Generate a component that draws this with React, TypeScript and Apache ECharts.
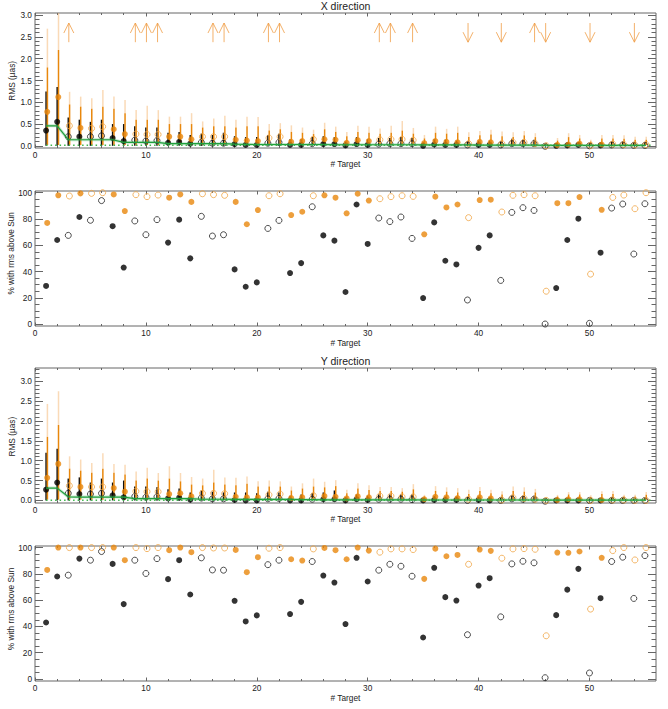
import { useEffect, useRef } from "react";
import * as echarts from "echarts";

// ---------- data ----------
const targets = [1,2,3,4,5,6,7,8,9,10,11,12,13,14,15,16,17,18,19,20,21,22,23,24,25,26,27,28,29,30,31,32,33,34,35,36,37,38,39,40,41,42,43,44,45,46,47,48,49,50,51,52,53,54,55];
const filledTargets = [1,2,4,7,8,12,13,14,18,19,20,23,24,26,27,28,29,30,35,36,37,38,40,41,47,48,49,51];

// X direction: median RMS (µas)
const rmsBlackX = [0.35,0.55,0.21,0.21,0.21,0.23,0.18,0.11,0.13,0.11,0.12,0.07,0.09,0.05,0.08,0.06,0.06,0.04,0.02,0.02,0.06,0.08,0.02,0.02,0.05,0.04,0.04,0.01,0.04,0.02,0.04,0.05,0.05,0.05,0.0,0.03,0.02,0.02,0.02,0.02,0.02,0.02,0.05,0.05,0.05,-0.01,0.0,0.01,0.02,0.0,0.01,0.02,0.02,0.01,0.01];
const rmsOrangeX = [0.78,1.12,0.46,0.41,0.40,0.44,0.38,0.27,0.27,0.26,0.26,0.21,0.21,0.15,0.21,0.21,0.21,0.14,0.12,0.11,0.18,0.21,0.09,0.11,0.15,0.15,0.14,0.07,0.13,0.11,0.14,0.15,0.15,0.13,0.06,0.11,0.09,0.08,0.05,0.09,0.08,0.05,0.08,0.08,0.05,0.0,0.02,0.03,0.05,0.01,0.03,0.04,0.03,0.02,0.03];
// X direction: spread of individual realisations
const orangeMaxX = [2.69,3.05,1.24,1.13,1.09,1.28,1.13,1.05,0.82,0.92,0.82,0.67,0.67,0.75,0.56,0.63,0.69,0.6,0.67,0.66,0.5,0.52,0.47,0.42,0.37,0.53,0.44,0.32,0.46,0.44,0.4,0.46,0.57,0.41,0.25,0.44,0.39,0.44,0.31,0.34,0.37,0.33,0.31,0.34,0.29,0.08,0.18,0.29,0.25,0.14,0.25,0.25,0.24,0.21,0.21];
const orangeDenseX = [1.8,2.2,0.95,0.9,0.85,0.9,0.85,0.75,0.6,0.6,0.6,0.5,0.5,0.5,0.42,0.45,0.45,0.42,0.45,0.45,0.35,0.38,0.32,0.3,0.27,0.38,0.32,0.22,0.32,0.3,0.28,0.3,0.35,0.28,0.17,0.3,0.28,0.3,0.2,0.24,0.26,0.22,0.2,0.24,0.2,0.05,0.12,0.2,0.17,0.1,0.17,0.17,0.16,0.14,0.14];
const blackTopX = [1.25,1.35,0.65,0.6,0.55,0.6,0.5,0.5,0.45,0.42,0.42,0.3,0.32,0.25,0.28,0.25,0.3,0.22,0.2,0.2,0.25,0.28,0.15,0.15,0.2,0.22,0.2,0.1,0.2,0.15,0.18,0.18,0.2,0.18,0.08,0.15,0.14,0.12,0.1,0.12,0.12,0.1,0.16,0.14,0.14,0.04,0.06,0.08,0.08,0.06,0.08,0.1,0.1,0.08,0.08];
const sunX = [0.46,0.46,0.14,0.14,0.14,0.14,0.14,0.08,0.08,0.08,0.08,0.05,0.05,0.05,0.05,0.05,0.05,0.04,0.035,0.03,0.03,0.03,0.03,0.03,0.03,0.03,0.025,0.025,0.025,0.025,0.025,0.025,0.025,0.025,0.02,0.02,0.02,0.02,0.02,0.015,0.015,0.015,0.015,0.015,0.015,0.01,0.01,0.01,0.01,0.01,0.01,0.01,0.01,0.01,0.01];
const floorX = [[1, 0.012], [55.7, 0.012]];
const upArrowTargets = [3,9,10,11,16,17,21,22,31,32,34,45];
const downArrowTargets = [39,42,46,50,54];
const arrowSpan = [2.38, 2.82];

// X direction: % with rms above Sun
const pctBlackX = [29,64,67.5,81.5,79,94,74.5,43,78.5,68,79.5,62,79.5,50,82,67,68,41.6,28.4,31.7,72.8,78.9,38.8,46.4,89.3,67.5,63.5,24.4,91,61,80.7,78,81.5,65.2,19.8,77.4,48.2,45.4,18.3,58,67.5,33.2,85,88.6,86.5,0,27.4,64,80.2,0.5,54.3,88.3,91.4,53.3,91.6];
const pctOrangeX = [77,98,97.5,99.5,99.5,100,98.7,86,98.5,97,98.2,96.2,98.7,93,99.2,98.5,98,93,76,86.8,97.7,99.2,83,85.5,97.7,98,96.2,84.3,99.2,94,95.4,97,97.7,97.2,68.3,97,88.8,91,81,94.4,94.7,85.3,98,98.5,97.7,25,92,92,96.7,38,87,96.4,98.2,87.8,100];

// Y direction: median RMS (µas)
const rmsBlackY = [0.27,0.45,0.18,0.16,0.16,0.18,0.13,0.08,0.10,0.08,0.09,0.05,0.07,0.02,0.06,0.04,0.04,0.01,0.0,0.0,0.04,0.05,0.0,0.0,0.03,0.03,0.03,0.0,0.03,0.01,0.03,0.03,0.03,0.02,0.0,0.01,0.01,0.01,0.0,0.01,0.0,0.0,0.04,0.03,0.03,-0.02,0.0,0.0,0.0,0.0,0.0,0.0,0.0,0.0,0.0];
const rmsOrangeY = [0.57,0.92,0.37,0.34,0.34,0.34,0.31,0.22,0.23,0.22,0.22,0.16,0.18,0.10,0.18,0.18,0.17,0.09,0.08,0.08,0.14,0.16,0.06,0.08,0.12,0.11,0.09,0.05,0.10,0.08,0.11,0.11,0.09,0.09,0.03,0.09,0.08,0.06,0.03,0.08,0.05,0.01,0.07,0.05,0.03,0.0,0.01,0.03,0.03,0.0,0.01,0.01,0.01,0.0,0.0];
const orangeMaxY = [2.43,2.75,1.11,1.03,0.94,1.19,0.92,0.9,0.73,0.82,0.69,0.86,0.69,0.59,0.55,0.77,0.58,0.57,0.6,0.48,0.5,0.48,0.35,0.43,0.55,0.47,0.51,0.27,0.43,0.38,0.34,0.34,0.31,0.41,0.14,0.36,0.33,0.31,0.27,0.34,0.27,0.23,0.35,0.33,0.29,0.08,0.14,0.21,0.21,0.13,0.23,0.24,0.14,0.14,0.21];
const orangeDenseY = [1.6,1.9,0.8,0.75,0.7,0.8,0.7,0.65,0.5,0.55,0.5,0.55,0.48,0.4,0.38,0.45,0.4,0.38,0.42,0.35,0.35,0.35,0.25,0.3,0.35,0.33,0.36,0.18,0.3,0.26,0.24,0.24,0.22,0.28,0.1,0.24,0.22,0.2,0.16,0.24,0.18,0.15,0.24,0.22,0.2,0.05,0.1,0.15,0.15,0.08,0.16,0.16,0.1,0.1,0.14];
const blackTopY = [1.2,1.3,0.55,0.58,0.45,0.55,0.45,0.5,0.35,0.35,0.33,0.28,0.3,0.2,0.25,0.22,0.2,0.2,0.2,0.18,0.22,0.2,0.12,0.15,0.18,0.2,0.25,0.08,0.15,0.12,0.15,0.15,0.15,0.15,0.06,0.12,0.1,0.1,0.08,0.1,0.08,0.06,0.12,0.12,0.12,0.03,0.05,0.06,0.06,0.05,0.06,0.08,0.06,0.05,0.06];
const sunY = [0.31,0.31,0.09,0.085,0.085,0.085,0.085,0.085,0.045,0.045,0.045,0.045,0.045,0.045,0.03,0.03,0.03,0.025,0.025,0.025,0.025,0.025,0.025,0.02,0.02,0.015,0.015,0.015,0.015,0.015,0.015,0.015,0.015,0.015,0.01,0.01,0.01,0.01,0.01,0.01,0.01,0.01,0.01,0.01,0.01,0.008,0.008,0.008,0.008,0.008,0.008,0.008,0.008,0.008,0.008];
const floorY = [[1, 0.006], [55.7, 0.006]];

// Y direction: % with rms above Sun
const pctBlackY = [43,78,79,91.6,90.4,97,87.6,57,90.4,80.3,91.6,76,90.4,64.3,92.2,83,82.8,59.5,43.8,48.4,87,90.4,49.4,58.7,89.4,78.7,73.4,41.8,92.2,74.2,82.8,87.3,85.8,78.2,31.6,84.6,62.3,59.7,33.7,71.1,76.7,47.3,87.6,89.6,88.4,1,48.6,68,83.8,4.6,61.5,89.4,92.7,61.3,93.9];
const pctOrangeY = [83,100,100,100,100,100,100,90.4,100,99.2,100,98,100,96.5,100,99.7,99.7,98.2,81.3,92.7,99.5,100,91.1,90.1,99,99.7,98,91.1,100,97.7,96.5,99,99,98.5,76.2,99.2,93.4,94.4,87.3,98.5,97.5,91.9,99,99.2,98.7,32.9,96.2,96,97,53.2,92.2,97.7,100,90.6,100];

// ticks
const xMajor = [0, 10, 20, 30, 40, 50];
const xMinor = [2,4,6,8,12,14,16,18,22,24,26,28,32,34,36,38,42,44,46,48,52,54];
const rmsMajor = [0, 0.5, 1.0, 1.5, 2.0, 2.5, 3.0];
const rmsMinorX = [0.1,0.2,0.3,0.4,0.6,0.7,0.8,0.9,1.1,1.2,1.3,1.4,1.6,1.7,1.8,1.9,2.1,2.2,2.3,2.4,2.6,2.7,2.8,2.9];
const rmsMinorY = [0.1,0.2,0.3,0.4,0.6,0.7,0.8,0.9,1.1,1.2,1.3,1.4,1.6,1.7,1.8,1.9,2.1,2.2,2.3,2.4,2.6,2.7,2.8,2.9,3.1,3.2,3.3];
const pctMajor = [0, 20, 40, 60, 80, 100];
const pctMinor = [5,10,15,25,30,35,45,50,55,65,70,75,85,90,95];

// ---------- styling ----------
const FONT = '"Liberation Sans", Arial, Helvetica, sans-serif';
const AXIS = "#666";
const TEXT = "#222";
const ORANGE = "#e8870c";
const ORANGE_OPEN = "#f0a545";
const ORANGE_FAINT = "rgba(243,172,95,0.45)";
const GREEN = "#1f9e3d";
const LABEL_SIZE = 8.3;

const GRIDS = [
  { top: 13, yMin: -0.05, yMax: 3.05, major: rmsMajor, minor: rmsMinorX, fmt: (v: number) => v.toFixed(1) },
  { top: 191, yMin: -1.5, yMax: 101.3, major: pctMajor, minor: pctMinor, fmt: (v: number) => String(Math.round(v)) },
  { top: 368, yMin: -0.065, yMax: 3.335, major: rmsMajor, minor: rmsMinorY, fmt: (v: number) => v.toFixed(1) },
  { top: 546, yMin: -1.5, yMax: 101.2, major: pctMajor, minor: pctMinor, fmt: (v: number) => String(Math.round(v)) },
];

function tick(vals: number[], len: number) {
  return { show: true, inside: true, length: len, customValues: vals, lineStyle: { color: AXIS, width: 1 } };
}

function buildAxes() {
  const xAxis: any[] = [];
  const yAxis: any[] = [];
  GRIDS.forEach((g, gi) => {
    const xb = { type: "value", gridIndex: gi, min: 0, max: 56, splitLine: { show: false }, axisLine: { show: false, onZero: false } };
    const yb = { type: "value", gridIndex: gi, min: g.yMin, max: g.yMax, splitLine: { show: false }, axisLine: { show: false, onZero: false } };
    xAxis.push(
      { ...xb, position: "bottom", axisTick: tick(xMajor, 3.5), axisLabel: { show: true, customValues: xMajor, formatter: (v: number) => String(v), fontSize: LABEL_SIZE, fontFamily: FONT, color: TEXT, margin: 3 } },
      { ...xb, position: "bottom", axisTick: tick(xMinor, 2), axisLabel: { show: false } },
      { ...xb, position: "top", axisTick: tick(xMajor, 3.5), axisLabel: { show: false } },
      { ...xb, position: "top", axisTick: tick(xMinor, 2), axisLabel: { show: false } }
    );
    yAxis.push(
      { ...yb, position: "left", axisTick: tick(g.major, 8), axisLabel: { show: true, customValues: g.major, formatter: g.fmt, fontSize: LABEL_SIZE, fontFamily: FONT, color: TEXT, margin: 3 } },
      { ...yb, position: "left", axisTick: tick(g.minor, 4.5), axisLabel: { show: false } },
      { ...yb, position: "right", axisTick: tick(g.major, 8), axisLabel: { show: false } },
      { ...yb, position: "right", axisTick: tick(g.minor, 4.5), axisLabel: { show: false } }
    );
  });
  return { xAxis, yAxis };
}

function segments(gi: number, data: number[][], color: string, width: number) {
  return {
    type: "custom",
    xAxisIndex: gi * 4,
    yAxisIndex: gi * 4,
    clip: true,
    silent: true,
    encode: { x: 0, y: [1, 2] },
    data,
    renderItem: (_p: any, api: any) => {
      const a = api.coord([api.value(0), api.value(1)]);
      const b = api.coord([api.value(0), api.value(2)]);
      return { type: "line", shape: { x1: a[0], y1: a[1], x2: b[0], y2: b[1] }, style: { stroke: color, lineWidth: width } };
    },
  };
}

function arrows(gi: number) {
  const data = [
    ...upArrowTargets.map((t) => [t + 0.05, arrowSpan[0], arrowSpan[1], 1]),
    ...downArrowTargets.map((t) => [t + 0.05, arrowSpan[0], arrowSpan[1], -1]),
  ];
  return {
    type: "custom",
    xAxisIndex: gi * 4,
    yAxisIndex: gi * 4,
    silent: true,
    encode: { x: 0, y: [1, 2] },
    data,
    renderItem: (_p: any, api: any) => {
      const a = api.coord([api.value(0), api.value(1)]);
      const b = api.coord([api.value(0), api.value(2)]);
      const up = api.value(3) > 0;
      const tip = up ? b : a;
      const d = up ? 10 : -10;
      const st = { stroke: "rgba(240,158,70,0.8)", lineWidth: 1, fill: "none" };
      return {
        type: "group",
        children: [
          { type: "line", shape: { x1: a[0], y1: a[1], x2: b[0], y2: b[1] }, style: st },
          { type: "polyline", shape: { points: [[tip[0] - 5, tip[1] + d], [tip[0], tip[1]], [tip[0] + 5, tip[1] + d]] }, style: st },
        ],
      };
    },
  };
}

function markers(gi: number, vals: number[], offset: number, color: string, openColor: string) {
  const filled = targets.filter((t) => filledTargets.includes(t)).map((t) => [t + offset, vals[t - 1]]);
  const open = targets.filter((t) => !filledTargets.includes(t)).map((t) => [t + offset, vals[t - 1]]);
  const base = { type: "scatter", xAxisIndex: gi * 4, yAxisIndex: gi * 4, symbol: "circle", symbolSize: 6, silent: true };
  return [
    { ...base, data: open, itemStyle: { color: "rgba(0,0,0,0)", borderColor: openColor, borderWidth: 1 } },
    { ...base, data: filled, itemStyle: { color } },
  ];
}

function rmsPanel(gi: number, blackTop: number[], oDense: number[], oMax: number[], sun: number[], floor: number[][], rmsB: number[], rmsO: number[]) {
  return [
    segments(gi, targets.map((t, i) => [t, 0, blackTop[i]]), "#111", 1.5),
    segments(gi, targets.map((t, i) => [t + 0.12, oDense[i], oMax[i]]), ORANGE_FAINT, 1.5),
    segments(gi, targets.map((t, i) => [t + 0.12, 0.02, oDense[i]]), ORANGE, 1.5),
    { type: "line", xAxisIndex: gi * 4, yAxisIndex: gi * 4, data: targets.map((t, i) => [t, sun[i]]), symbol: "none", silent: true, lineStyle: { color: "rgba(60,180,90,0.3)", width: 3 } },
    { type: "line", xAxisIndex: gi * 4, yAxisIndex: gi * 4, data: targets.map((t, i) => [t, sun[i]]), symbol: "none", silent: true, lineStyle: { color: GREEN, width: 1.2 } },
    { type: "line", xAxisIndex: gi * 4, yAxisIndex: gi * 4, data: floor, symbol: "none", silent: true, lineStyle: { color: "#3cb44b", width: 1.5, type: [1.5, 3] } },
    ...markers(gi, rmsB, 0, "#000", "#222"),
    ...markers(gi, rmsO, 0.1, ORANGE, ORANGE_OPEN),
  ];
}

function pctPanel(gi: number, pB: number[], pO: number[]) {
  return [...markers(gi, pB, 0, "#000", "#222"), ...markers(gi, pO, 0.1, ORANGE, ORANGE_OPEN)];
}

function txt(text: string, x: number, y: number, size: number, rotate = false) {
  return {
    type: "text",
    x,
    y,
    rotation: rotate ? Math.PI / 2 : 0,
    silent: true,
    style: { text, fill: TEXT, font: `${size}px ${FONT}`, textAlign: "center", textVerticalAlign: "middle", align: "center", verticalAlign: "middle" },
  };
}

export default function App() {
  const ref = useRef<HTMLDivElement>(null);
  useEffect(() => {
    document.body.style.margin = "0";
    if (!ref.current) return;
    const chart = echarts.init(ref.current, null, { renderer: "svg" });
    const { xAxis, yAxis } = buildAxes();
    const option: any = {
      animation: false,
      grid: GRIDS.map((g) => ({ left: 35, width: 621, top: g.top, height: 135, show: true, borderColor: AXIS, borderWidth: 1, backgroundColor: "transparent" })),
      xAxis,
      yAxis,
      graphic: [
        txt("X direction", 345.5, 6, 10.5),
        txt("Y direction", 345.5, 361, 10.5),
        txt("# Target", 345.5, 164.3, LABEL_SIZE),
        txt("# Target", 345.5, 343.3, LABEL_SIZE),
        txt("# Target", 345.5, 519.3, LABEL_SIZE),
        txt("# Target", 345.5, 698.3, LABEL_SIZE),
        txt("RMS (µas)", 12, 80.8, LABEL_SIZE, true),
        txt("% with rms above Sun", 11, 253.3, LABEL_SIZE, true),
        txt("RMS (µas)", 12, 436.7, LABEL_SIZE, true),
        txt("% with rms above Sun", 11, 609, LABEL_SIZE, true),
      ],
      series: [
        ...rmsPanel(0, blackTopX, orangeDenseX, orangeMaxX, sunX, floorX, rmsBlackX, rmsOrangeX),
        arrows(0),
        ...pctPanel(1, pctBlackX, pctOrangeX),
        ...rmsPanel(2, blackTopY, orangeDenseY, orangeMaxY, sunY, floorY, rmsBlackY, rmsOrangeY),
        ...pctPanel(3, pctBlackY, pctOrangeY),
      ],
    };
    chart.setOption(option);
    return () => chart.dispose();
  }, []);
  return <div ref={ref} style={{ width: 668, height: 709 }} />;
}
